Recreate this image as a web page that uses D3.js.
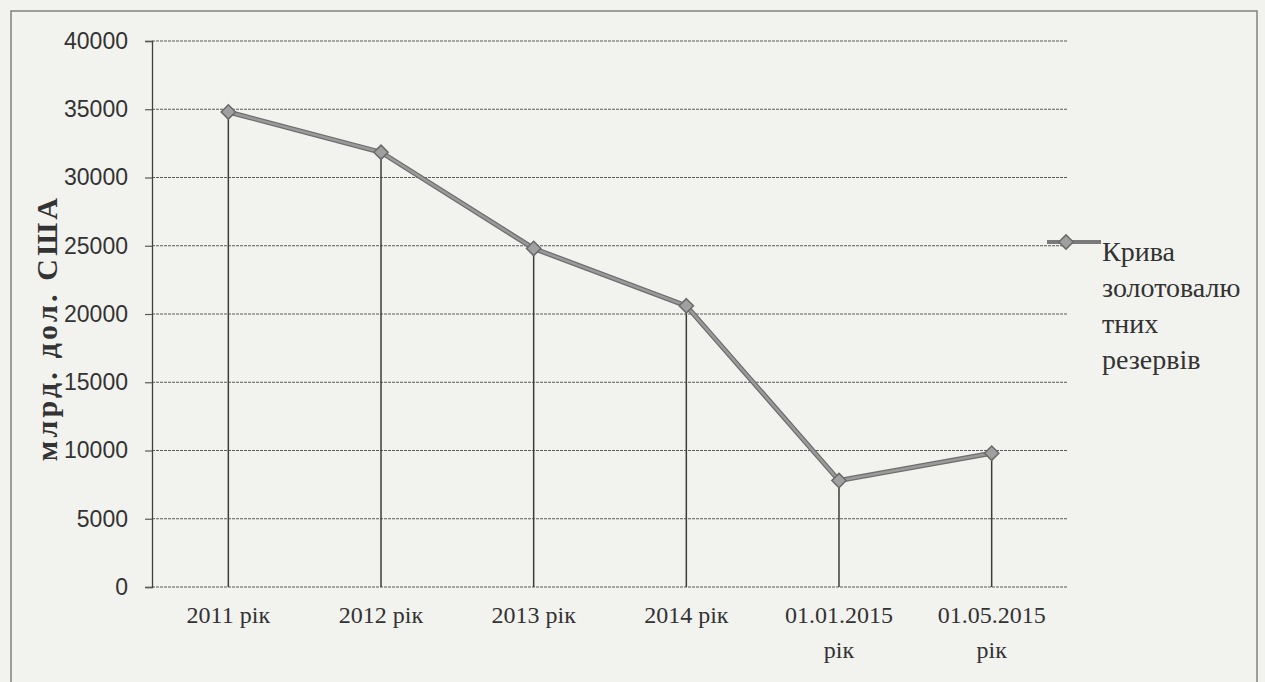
<!DOCTYPE html>
<html>
<head>
<meta charset="utf-8">
<script src="https://cdn.jsdelivr.net/npm/d3@7"></script>
<style>
  html, body { margin: 0; padding: 0; background: #f2f2ee; }
  svg { display: block; }
</style>
</head>
<body>
<svg id="chart" width="1265" height="682"></svg>
<script>
// ---- data ----
const categories = ["2011 рік", "2012 рік", "2013 рік", "2014 рік", "01.01.2015 рік", "01.05.2015 рік"];
const tickLabels = [["2011 рік"], ["2012 рік"], ["2013 рік"], ["2014 рік"], ["01.01.2015", "рік"], ["01.05.2015", "рік"]];
const reserves = [34800, 31850, 24800, 20600, 7800, 9800];
const yTicks = [0, 5000, 10000, 15000, 20000, 25000, 30000, 35000, 40000];
const seriesName = ["Крива", "золотовалю", "тних", "резервів"];
const yTitle = "млрд. дол. США";

// ---- layout ----
const svg = d3.select("#chart");
const mLeft = 152, mRight = 1068, mTop = 41, mBottom = 587;
const ink = "#333333";

svg.append("rect").attr("x", 0).attr("y", 0).attr("width", 1265).attr("height", 682).attr("fill", "#f2f2ee");
// outer frame
svg.append("rect").attr("x", 11).attr("y", 11).attr("width", 1246).attr("height", 700)
  .attr("fill", "none").attr("stroke", "#808080").attr("stroke-width", 1.5);

const x = d3.scaleBand().domain(categories).range([mLeft, mRight]).padding(0);
const y = d3.scaleLinear().domain([0, 40000]).range([mBottom, mTop]);
const cx = d => x(d) + x.bandwidth() / 2;

// gridlines
svg.append("g").selectAll("line").data(yTicks).join("line")
  .attr("x1", mLeft).attr("x2", mRight)
  .attr("y1", d => y(d)).attr("y2", d => y(d))
  .attr("stroke", "#5a5a5a").attr("stroke-width", 1.2).attr("stroke-dasharray", "3,1");

// y axis
const yAxis = svg.append("g").attr("transform", `translate(${mLeft},0)`)
  .call(d3.axisLeft(y).tickValues(yTicks).tickSize(7).tickPadding(17).tickFormat(d3.format("d")));
yAxis.select(".domain").attr("stroke", "#404040").attr("stroke-width", 1.3);
yAxis.selectAll(".tick line").attr("stroke", "#5a5a5a").attr("stroke-width", 1.2);
yAxis.selectAll(".tick text").attr("fill", ink)
  .style("font-family", "'Liberation Sans', Arial, sans-serif").style("font-size", "23px");

// x axis
const xAxis = svg.append("g").attr("transform", `translate(0,${mBottom})`)
  .call(d3.axisBottom(x).tickSize(0).tickPadding(16).tickFormat(() => ""));
xAxis.select(".domain").remove();
xAxis.selectAll(".tick text").each(function(d, i) {
  const t = d3.select(this);
  t.attr("fill", ink).attr("dy", null).attr("y", 0)
    .style("font-family", "'Liberation Serif', 'Times New Roman', serif").style("font-size", "24px");
  tickLabels[i].forEach((line, j) => {
    t.append("tspan").attr("x", 0).attr("y", 36 + j * 35).text(line);
  });
});

// drop lines
svg.append("g").selectAll("line").data(categories).join("line")
  .attr("x1", d => cx(d)).attr("x2", d => cx(d))
  .attr("y1", (d, i) => y(reserves[i])).attr("y2", y(0))
  .attr("stroke", "#3c3c3c").attr("stroke-width", 1.5);

// series line
const line = d3.line().x((d, i) => cx(categories[i])).y(d => y(d));
svg.append("path").datum(reserves).attr("d", line)
  .attr("fill", "none").attr("stroke", "#6e6e6e").attr("stroke-width", 5);
svg.append("path").datum(reserves).attr("d", line)
  .attr("fill", "none").attr("stroke", "#9a9a9a").attr("stroke-width", 2.5);

const diamond = d3.symbol().type(d3.symbolDiamond2).size(130);
svg.append("g").selectAll("path").data(reserves).join("path")
  .attr("d", diamond)
  .attr("transform", (d, i) => `translate(${cx(categories[i])},${y(d)})`)
  .attr("fill", "#a0a0a0").attr("stroke", "#6a6a6a").attr("stroke-width", 1.5);

// y title
svg.append("text")
  .attr("transform", "translate(57,328) rotate(-90)")
  .attr("text-anchor", "middle").attr("fill", ink)
  .style("font-family", "'Liberation Serif', 'Times New Roman', serif")
  .style("font-size", "30px").style("font-weight", "bold").style("letter-spacing", "3.2px")
  .text(yTitle);

// legend
const lg = svg.append("g");
lg.append("line").attr("x1", 1047).attr("x2", 1101).attr("y1", 242).attr("y2", 242)
  .attr("stroke", "#7a7a7a").attr("stroke-width", 4);
lg.append("path").attr("d", diamond).attr("transform", "translate(1066,242)")
  .attr("fill", "#a0a0a0").attr("stroke", "#6a6a6a").attr("stroke-width", 1.5);
const lt = lg.append("text").attr("fill", ink)
  .style("font-family", "'Liberation Serif', 'Times New Roman', serif").style("font-size", "28px");
seriesName.forEach((s, i) => {
  lt.append("tspan").attr("x", 1102).attr("y", 261 + i * 36).text(s);
});
</script>
</body>
</html>
